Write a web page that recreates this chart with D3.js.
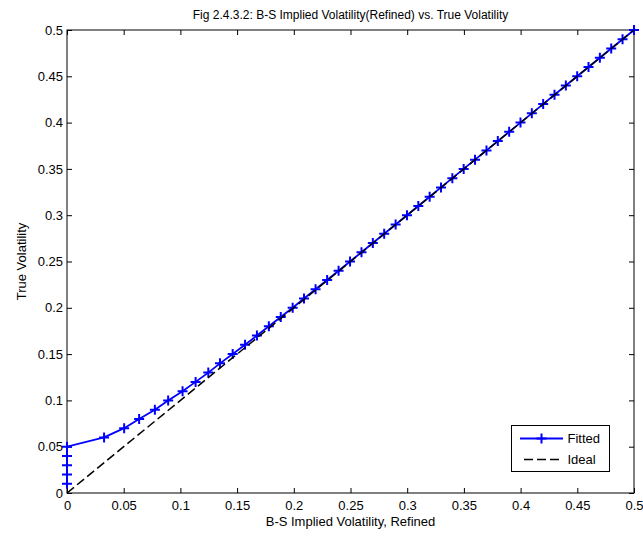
<!DOCTYPE html>
<html>
<head>
<meta charset="utf-8">
<script src="https://cdn.jsdelivr.net/npm/d3@7"></script>
<style>
  body { margin: 0; background: #fff; }
  text { font-family: "Liberation Sans", Arial, sans-serif; }
</style>
</head>
<body>
<div id="chart"></div>
<script>
// True volatility (y) against the refined B-S implied volatility (x)
const trueVol = [
    0.01, 0.02, 0.03, 0.04, 0.05, 0.06, 0.07, 0.08, 0.09, 0.10,
    0.11, 0.12, 0.13, 0.14, 0.15, 0.16, 0.17, 0.18, 0.19, 0.20,
    0.21, 0.22, 0.23, 0.24, 0.25, 0.26, 0.27, 0.28, 0.29, 0.30,
    0.31, 0.32, 0.33, 0.34, 0.35, 0.36, 0.37, 0.38, 0.39, 0.40,
    0.41, 0.42, 0.43, 0.44, 0.45, 0.46, 0.47, 0.48, 0.49, 0.50
];
const impliedVol = [
    0, 0, 0, 0, 0, 0.0327, 0.0504, 0.0636, 0.0775, 0.0892,
    0.1019, 0.1134, 0.1246, 0.1349, 0.1461, 0.1570, 0.1675, 0.1780, 0.1885, 0.1990,
    0.2090, 0.2192, 0.2294, 0.2395, 0.2496, 0.2597, 0.2697, 0.2797, 0.2898, 0.2998,
    0.3098, 0.3198, 0.3298, 0.3398, 0.3498, 0.3598, 0.3699, 0.3799, 0.3899, 0.3999,
    0.4099, 0.4199, 0.4299, 0.4399, 0.4499, 0.4599, 0.4699, 0.4799, 0.4899, 0.5
];
const idealX = [0, 0.5];
const idealY = [0, 0.5];
const xTicks = [0, 0.05, 0.1, 0.15, 0.2, 0.25, 0.3, 0.35, 0.4, 0.45, 0.5];
const yTicks = [0, 0.05, 0.1, 0.15, 0.2, 0.25, 0.3, 0.35, 0.4, 0.45, 0.5];

const width = 643, height = 536;
const m = { left: 67, right: 634, top: 30, bottom: 493 };

const svg = d3.select("#chart").append("svg")
    .attr("width", width)
    .attr("height", height);

const x = d3.scaleLinear().domain([0, 0.5]).range([m.left, m.right]);
const y = d3.scaleLinear().domain([0, 0.5]).range([m.bottom, m.top]);

const fmt = d => d === 0 ? "0" : String(+d.toFixed(2));

// ticks on all four sides, pointing in
function styleAxis(g) {
    g.select(".domain").remove();
    g.selectAll(".tick line").attr("stroke", "#000");
    g.selectAll(".tick text").attr("font-size", 13).attr("fill", "#000")
        .attr("font-family", "Liberation Sans, Arial, sans-serif");
}

svg.append("g")
    .attr("transform", "translate(0," + m.bottom + ")")
    .call(d3.axisBottom(x).tickValues(xTicks).tickFormat(fmt).tickSizeInner(-5).tickPadding(8))
    .call(styleAxis);
svg.append("g")
    .attr("transform", "translate(0," + m.top + ")")
    .call(d3.axisTop(x).tickValues(xTicks).tickFormat("").tickSizeInner(-5))
    .call(styleAxis);
svg.append("g")
    .attr("transform", "translate(" + m.left + ",0)")
    .call(d3.axisLeft(y).tickValues(yTicks).tickFormat(fmt).tickSizeInner(-5).tickPadding(4))
    .call(styleAxis);
svg.append("g")
    .attr("transform", "translate(" + m.right + ",0)")
    .call(d3.axisRight(y).tickValues(yTicks).tickFormat("").tickSizeInner(-5))
    .call(styleAxis);

svg.append("rect")
    .attr("x", m.left).attr("y", m.top)
    .attr("width", m.right - m.left).attr("height", m.bottom - m.top)
    .attr("fill", "none").attr("stroke", "#000").attr("stroke-width", 1);

// Fitted line with + markers
const fitted = impliedVol.map((d, i) => [d, trueVol[i]]);
svg.append("path")
    .datum(fitted)
    .attr("d", d3.line().x(d => x(d[0])).y(d => y(d[1])))
    .attr("fill", "none")
    .attr("stroke", "#0000ff")
    .attr("stroke-width", 1.8);

svg.append("g").selectAll("path")
    .data(fitted)
    .join("path")
    .attr("transform", d => "translate(" + x(d[0]) + "," + y(d[1]) + ")")
    .attr("d", "M-5,0H5M0,-5V5")
    .attr("stroke", "#0000ff")
    .attr("stroke-width", 2);

// Ideal line, drawn after the fitted series
const ideal = idealX.map((d, i) => [d, idealY[i]]);
svg.append("path")
    .datum(ideal)
    .attr("d", d3.line().x(d => x(d[0])).y(d => y(d[1])))
    .attr("fill", "none")
    .attr("stroke", "#000")
    .attr("stroke-width", 1.5)
    .attr("stroke-dasharray", "9,4");

// Legend
const lg = svg.append("g").attr("transform", "translate(511.5,425.5)");
lg.append("rect")
    .attr("width", 98).attr("height", 46)
    .attr("fill", "#fff").attr("stroke", "#000");
lg.append("line").attr("x1", 8.5).attr("x2", 51.5).attr("y1", 13).attr("y2", 13)
    .attr("stroke", "#0000ff").attr("stroke-width", 2);
lg.append("path").attr("d", "M30,8V18M25,13H35")
    .attr("stroke", "#0000ff").attr("stroke-width", 2);
lg.append("text").attr("x", 56).attr("y", 17.5).attr("font-size", 13).text("Fitted");
lg.append("line").attr("x1", 12.5).attr("x2", 51.5).attr("y1", 34).attr("y2", 34)
    .attr("stroke", "#000").attr("stroke-width", 1.5).attr("stroke-dasharray", "9,4");
lg.append("text").attr("x", 56).attr("y", 38.5).attr("font-size", 13).text("Ideal");

// Title and axis labels
svg.append("text")
    .attr("x", (m.left + m.right) / 2).attr("y", 19)
    .attr("text-anchor", "middle").attr("font-size", 12)
    .text("Fig 2.4.3.2: B-S Implied Volatility(Refined) vs. True Volatility");
svg.append("text")
    .attr("x", (m.left + m.right) / 2).attr("y", 526)
    .attr("text-anchor", "middle").attr("font-size", 13)
    .text("B-S Implied Volatility, Refined");
svg.append("text")
    .attr("transform", "translate(26," + (m.top + m.bottom) / 2 + ") rotate(-90)")
    .attr("text-anchor", "middle").attr("font-size", 13)
    .text("True Volatility");
</script>
</body>
</html>
